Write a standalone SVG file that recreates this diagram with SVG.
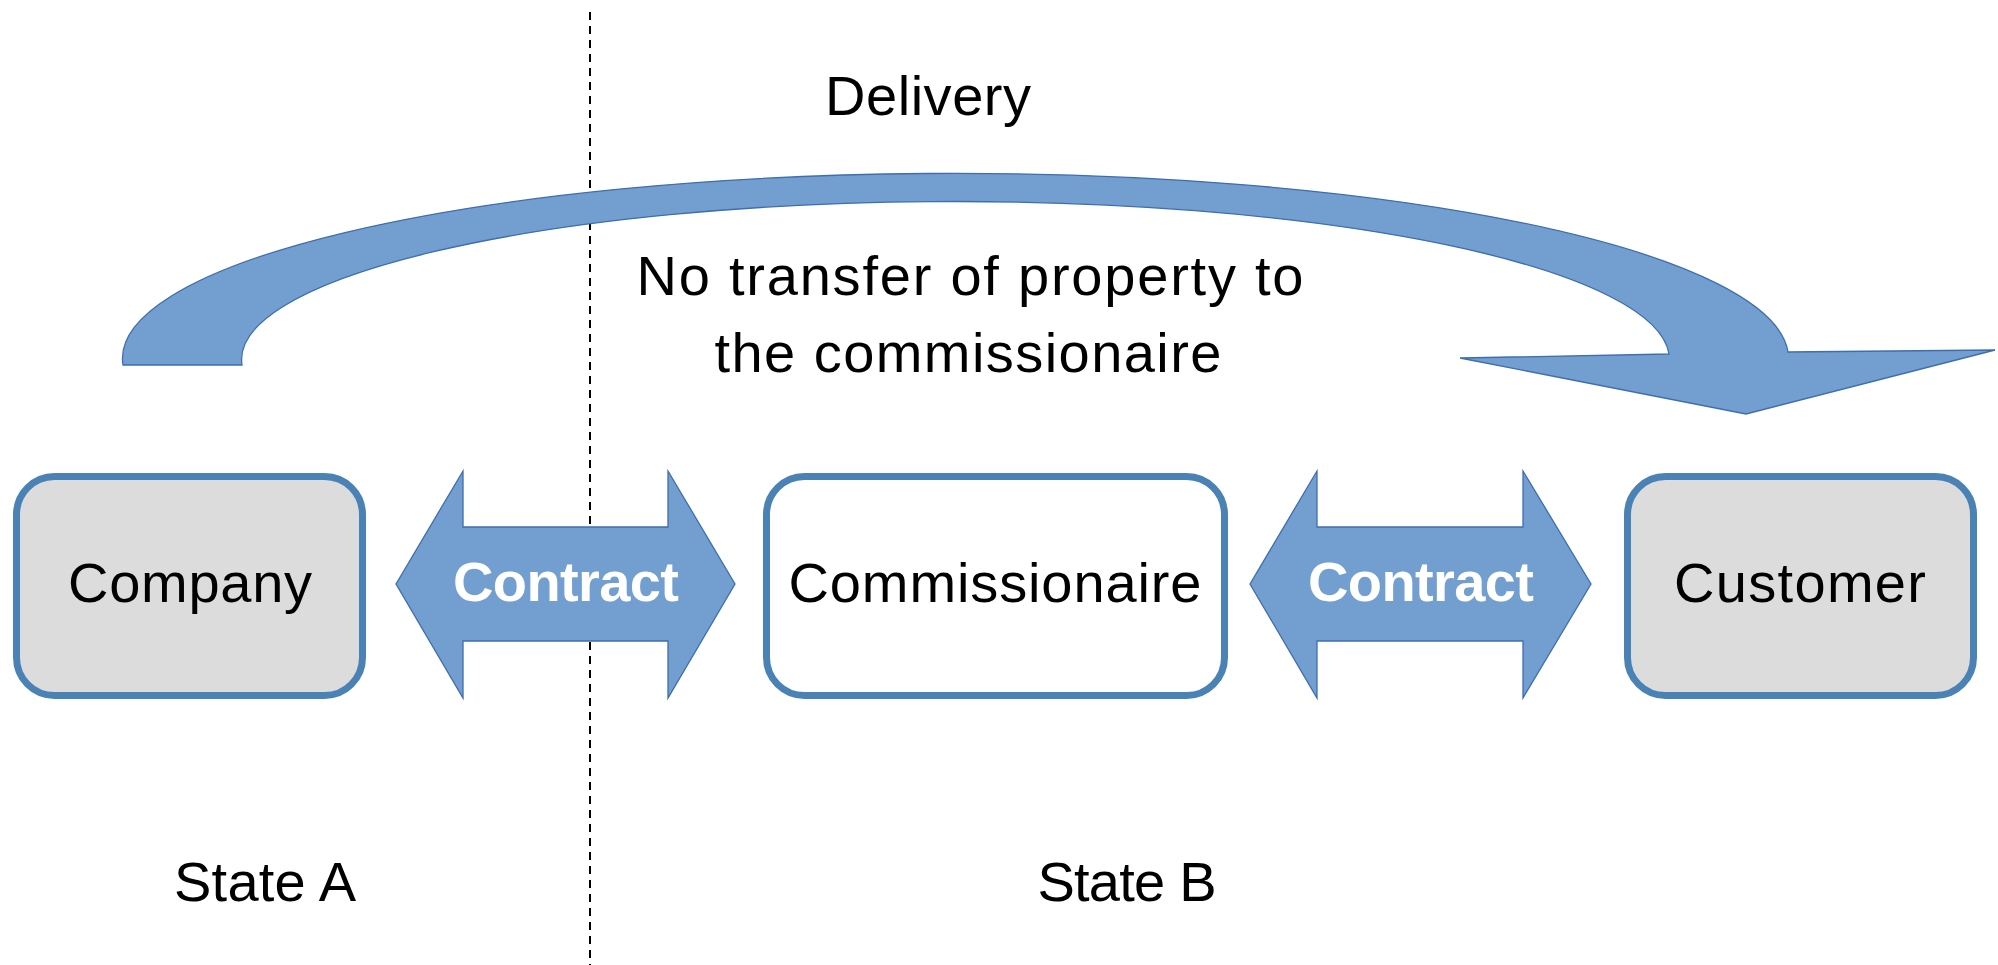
<svg xmlns="http://www.w3.org/2000/svg" width="1998" height="965" viewBox="0 0 1998 965">
<style>
.box{stroke:#4a82b6;stroke-width:7}
.gray{fill:#dcdcdc}
.white{fill:#ffffff}
.arr{fill:#729fcf;stroke:#3e6db0;stroke-width:1.3;stroke-linejoin:miter}
.t{font-family:"Liberation Sans",Arial,sans-serif;font-size:56px;fill:#000000}
.c{font-family:"Liberation Sans",Arial,sans-serif;font-size:56px;font-weight:bold;fill:#ffffff}
</style>
<rect width="1998" height="965" fill="#ffffff"/>
<line x1="590" y1="12" x2="590" y2="965" stroke="#000000" stroke-width="2" stroke-dasharray="8 6"/>
<g id="connectors">
<path id="delivery-arrow" class="arr" d="M123,365 A832.5,185 0 0 1 1788,352 L1995,350 L1746,414 L1460,358 L1669,354 A713.5,158 0 0 0 242,365 Z"/>
<polygon id="contract1" class="arr" points="396,584 463,471 463,527 668,527 668,471 735,584 668,698 668,641 463,641 463,698"/>
<polygon id="contract2" class="arr" points="1250,584 1317,471 1317,527 1523,527 1523,471 1591,584 1523,698 1523,641 1317,641 1317,698"/>
<text class="c" x="566" y="601" text-anchor="middle" textLength="226">Contract</text>
<text class="c" x="1421" y="601" text-anchor="middle" textLength="226">Contract</text>
</g>
<g id="company">
<rect class="box gray" x="16.5" y="476.5" width="346" height="219" rx="38" ry="38"/>
<text class="t" x="190" y="602" text-anchor="middle" textLength="244">Company</text>
</g>
<g id="commissionaire">
<rect class="box white" x="766.5" y="476.5" width="458" height="219" rx="38" ry="38"/>
<text class="t" x="995" y="602" text-anchor="middle" textLength="413">Commissionaire</text>
</g>
<g id="customer">
<rect class="box gray" x="1627.5" y="476.5" width="346" height="219" rx="38" ry="38"/>
<text class="t" x="1800" y="602" text-anchor="middle" textLength="252">Customer</text>
</g>
<g id="labels">
<text class="t" x="928" y="115" text-anchor="middle" textLength="206">Delivery</text>
<text class="t" x="970" y="295" text-anchor="middle" textLength="667">No transfer of property to</text>
<text class="t" x="968" y="372" text-anchor="middle" textLength="507">the commissionaire</text>
<text class="t" x="265" y="901" text-anchor="middle" textLength="182">State A</text>
<text class="t" x="1127" y="901" text-anchor="middle" textLength="179">State B</text>
</g>
</svg>
